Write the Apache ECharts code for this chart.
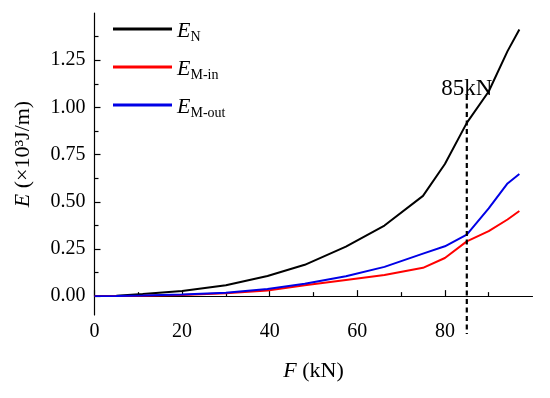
<!DOCTYPE html>
<html>
<head>
<meta charset="utf-8">
<script src="https://cdn.jsdelivr.net/npm/echarts@6/dist/echarts.min.js"></script>
<style>html,body{margin:0;padding:0;background:#fff}#c{width:550px;height:398px}</style>
</head>
<body>
<div id="c"></div>
<script>
var forces = [0, 5, 11, 20, 30, 39.5, 48, 57.4, 66.2, 75, 80, 85, 90, 94.3, 97];
var eN     = [0, 0.002, 0.011, 0.027, 0.058, 0.107, 0.166, 0.262, 0.374, 0.531, 0.70, 0.918, 1.084, 1.298, 1.413];
var eMin   = [0, 0.001, 0.002, 0.006, 0.015, 0.030, 0.058, 0.086, 0.112, 0.150, 0.202, 0.290, 0.344, 0.406, 0.451];
var eMout  = [0, 0.001, 0.003, 0.008, 0.018, 0.038, 0.066, 0.105, 0.155, 0.225, 0.264, 0.326, 0.465, 0.597, 0.647];
var yTicks = [0, 0.25, 0.5, 0.75, 1.0, 1.25];
var yMinor = [0.125, 0.375, 0.625, 0.875, 1.125, 1.375];
var xTicks = [0, 20, 40, 60, 80];
var xMinor = [10, 30, 50, 70, 90];
var markF = 85;
var markLabel = '85kN';

function pairs(xs, ys){ return xs.map(function(x,i){ return [x, ys[i]]; }); }

var font = 'Liberation Serif';
var chart = echarts.init(document.getElementById('c'));
var rich = {
  e: {fontFamily: font, fontStyle: 'italic', fontSize: 22, color: '#000', verticalAlign: 'top', lineHeight: 24},
  s: {fontFamily: font, fontSize: 14, color: '#000', verticalAlign: 'bottom', lineHeight: 24, padding: [12,0,0,0]}
};
var subs = {'E_N': 'N', 'E_M-in': 'M-in', 'E_M-out': 'M-out'};
chart.setOption({
  animation: false,
  grid: {left: 94.5, right: 17.5, top: 13, bottom: 83, outerBoundsMode: 'none', containLabel: false},
  legend: {
    orient: 'vertical', left: 113, top: 18, padding: 0, itemWidth: 59, itemHeight: 3, itemGap: 12, icon: 'rect',
    data: ['E_N', 'E_M-in', 'E_M-out'],
    formatter: function(n){ return '{e|E}{s|' + subs[n] + '}'; },
    textStyle: {rich: rich, padding: [6,0,0,0]}
  },
  xAxis: [{
    type: 'value', min: 0, max: 100,
    name: '{i|F} (kN)', nameLocation: 'middle', nameGap: 45,
    nameTextStyle: {fontFamily: font, fontSize: 22, color: '#000', rich: {i: {fontFamily: font, fontStyle: 'italic', fontSize: 22, color: '#000'}}},
    axisLine: {lineStyle: {color: '#000', width: 1.2}},
    axisTick: {inside: true, length: 6, customValues: xTicks, lineStyle: {color: '#000', width: 1.2}},
    axisLabel: {customValues: xTicks, margin: 7, fontFamily: font, fontSize: 20, color: '#000'},
    splitLine: {show: false}
  }, {
    type: 'value', min: 0, max: 100, position: 'bottom',
    axisLine: {show: false},
    axisTick: {inside: true, length: 4, customValues: xMinor, lineStyle: {color: '#000', width: 1.2}},
    axisLabel: {show: false}, splitLine: {show: false}
  }],
  yAxis: [{
    type: 'value', min: -0.1, max: 1.5,
    name: '{i|E} (×10³J/m)', nameLocation: 'middle', nameGap: 60, nameRotate: 90,
    nameTextStyle: {fontFamily: font, fontSize: 22, color: '#000', padding: [0,0,0,20], rich: {i: {fontFamily: font, fontStyle: 'italic', fontSize: 22, color: '#000'}}},
    axisLine: {show: true, lineStyle: {color: '#000', width: 1.2}},
    axisTick: {show: true, inside: true, length: 6, customValues: yTicks, lineStyle: {color: '#000', width: 1.2}},
    axisLabel: {customValues: yTicks, margin: 9, fontFamily: font, fontSize: 20, color: '#000',
      formatter: function(v){ return v.toFixed(2); }},
    splitLine: {show: false}
  }, {
    type: 'value', min: -0.1, max: 1.5, position: 'left',
    axisLine: {show: false},
    axisTick: {show: true, inside: true, length: 4, customValues: yMinor, lineStyle: {color: '#000', width: 1.2}},
    axisLabel: {show: false}, splitLine: {show: false}
  }],
  series: [
    {name: 'E_N', type: 'line', symbol: 'none', data: pairs(forces, eN), lineStyle: {color: '#000', width: 2}, itemStyle: {color: '#000'}},
    {name: 'E_M-in', type: 'line', symbol: 'none', data: pairs(forces, eMin), lineStyle: {color: '#ff0000', width: 2}, itemStyle: {color: '#ff0000'}},
    {name: 'E_M-out', type: 'line', symbol: 'none', data: pairs(forces, eMout), lineStyle: {color: '#0000e6', width: 2}, itemStyle: {color: '#0000e6'}},
    {type: 'line', symbol: 'none', clip: false, silent: true, z: 5,
      data: [[markF, 1.066], [markF, -0.2]],
      lineStyle: {color: '#000', width: 2.2, type: [5, 3.5]}},
    {type: 'scatter', symbolSize: 0, silent: true, clip: false, z: 6,
      itemStyle: {opacity: 1, color: '#000'},
      data: [[markF, 1.096]],
      label: {show: true, position: 'inside', formatter: markLabel, fontFamily: font, fontSize: 23, color: '#000', opacity: 1, textBorderWidth: 0}}
  ]
});
</script>
</body>
</html>
